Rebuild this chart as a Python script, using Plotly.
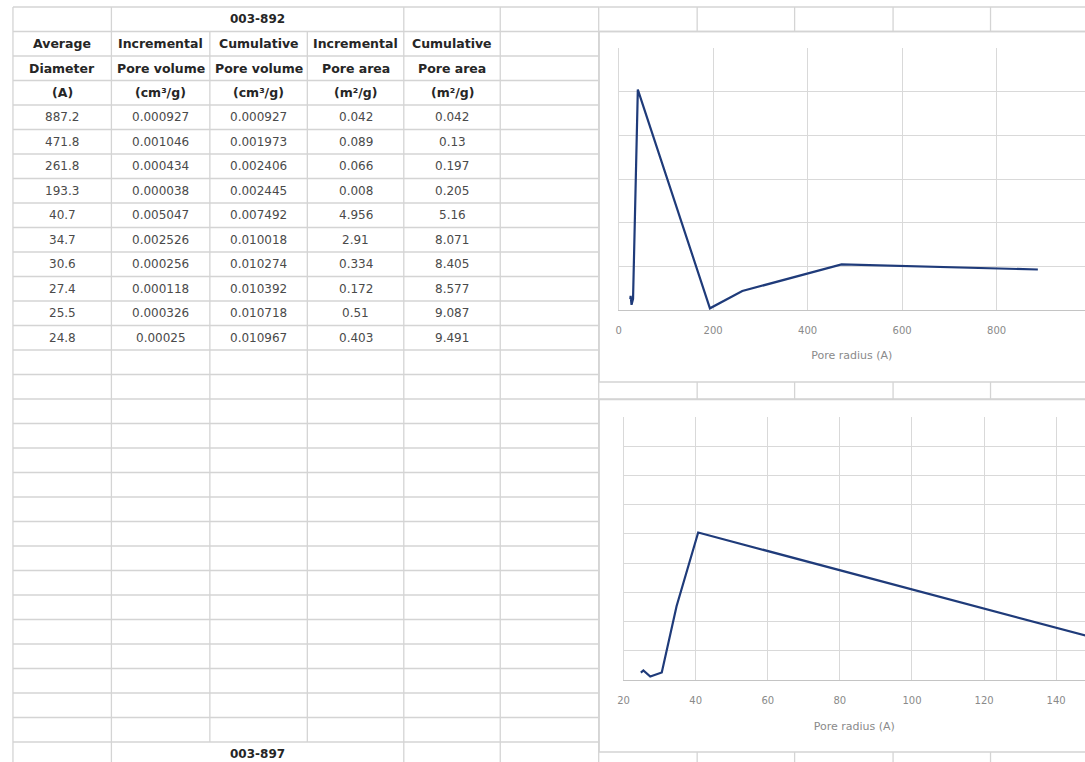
import plotly.graph_objects as go

# ---------------- data ----------------
sample_top = "003-892"
sample_bottom = "003-897"
header_line1 = ["Average", "Incremental", "Cumulative", "Incremental", "Cumulative"]
header_line2 = ["Diameter", "Pore volume", "Pore volume", "Pore area", "Pore area"]
header_line3 = ["(A)", "(cm³/g)", "(cm³/g)", "(m²/g)", "(m²/g)"]

avg_diameter = [887.2, 471.8, 261.8, 193.3, 40.7, 34.7, 30.6, 27.4, 25.5, 24.8]
inc_pore_volume = [0.000927, 0.001046, 0.000434, 0.000038, 0.005047,
                   0.002526, 0.000256, 0.000118, 0.000326, 0.00025]
cum_pore_volume = [0.000927, 0.001973, 0.002406, 0.002445, 0.007492,
                   0.010018, 0.010274, 0.010392, 0.010718, 0.010967]
inc_pore_area = [0.042, 0.089, 0.066, 0.008, 4.956, 2.91, 0.334, 0.172, 0.51, 0.403]
cum_pore_area = [0.042, 0.13, 0.197, 0.205, 5.16, 8.071, 8.405, 8.577, 9.087, 9.491]

x_title = "Pore radius (A)"

# ---------------- geometry (pixels) ----------------
W, H = 1085, 762
COLS = [7, 106, 205, 303, 400, 497, 596, 695, 793, 892, 990]
ROW0, ROWH, NROWS = 7, 24.5, 32
GRID = "#d4d4d4"
LINE = "#1f3b7a"
TICK = "#8a8a8a"
FONT = "DejaVu Sans"

CH1 = dict(x0=596.5, y0=31.5, y1=382)     # chart objects
CH2 = dict(x0=596.5, y0=399.5, y1=752)


def px(x):
    return x / W


def py(y):
    return 1 - y / H


def fmt(v):
    return f"{v:.6f}".rstrip("0").rstrip(".")


shapes = []


def hline(y, x0, x1, color=GRID):
    shapes.append(dict(type="line", xref="paper", yref="paper", x0=px(x0), x1=px(x1),
                       y0=py(y), y1=py(y), line=dict(color=color, width=1.3)))


def vline(x, y0, y1, color=GRID):
    shapes.append(dict(type="line", xref="paper", yref="paper", x0=px(x), x1=px(x),
                       y0=py(y0), y1=py(y1), line=dict(color=color, width=1.3)))


rows_y = [ROW0 + ROWH * k for k in range(NROWS)]
for k, y in enumerate(rows_y):
    hline(y, COLS[0], 596.5)
    inside = (CH1["y0"] < y < CH1["y1"]) or (CH2["y0"] < y < CH2["y1"])
    if not inside:
        hline(y, 596.5, W + 5)

merged_rows = [0, 30]
for x in COLS[:7]:
    if x in (205, 303):
        segs = []
        start = ROW0
        for r in merged_rows:
            segs.append((start, ROW0 + ROWH * r))
            start = ROW0 + ROWH * (r + 1)
        segs.append((start, H + 5))
        for a, b in segs:
            if b > a:
                vline(x, a, b)
    else:
        vline(x, ROW0, H + 5)
for x in COLS[7:]:
    for a, b in [(ROW0, CH1["y0"]), (CH1["y1"], CH2["y0"]), (CH2["y1"], H + 5)]:
        vline(x, a, b)

for ch in (CH1, CH2):
    shapes.append(dict(type="rect", xref="paper", yref="paper", x0=px(ch["x0"]), x1=px(W + 20),
                       y0=py(ch["y1"]), y1=py(ch["y0"]), fillcolor="white",
                       line=dict(color=GRID, width=1.3), layer="below"))

# ---------------- table text ----------------
annotations = []
col_centers = [(COLS[i] + COLS[i + 1]) / 2 for i in range(5)]
merged_center = (COLS[1] + COLS[4]) / 2


def row_center(k):
    return ROW0 + ROWH * (k + 0.5)


def cell(text, xc, k, bold=False, color="#4a4a4a", size=12):
    annotations.append(dict(text=f"<b>{text}</b>" if bold else text, x=px(xc), y=py(row_center(k)),
                            xref="paper", yref="paper", showarrow=False,
                            xanchor="center", yanchor="middle",
                            font=dict(family=FONT, size=size, color=color)))


HDR = "#262626"
cell(sample_top, merged_center, 0, bold=True, color=HDR, size=12)
for k, hdr in enumerate([header_line1, header_line2, header_line3], start=1):
    for i, t in enumerate(hdr):
        cell(t, col_centers[i], k, bold=True, color=HDR, size=12.5)
columns = [avg_diameter, inc_pore_volume, cum_pore_volume, inc_pore_area, cum_pore_area]
for r in range(len(avg_diameter)):
    for i, col in enumerate(columns):
        cell(fmt(col[r]), col_centers[i], 4 + r)
cell(sample_bottom, merged_center, 30, bold=True, color=HDR, size=12)

# ---------------- charts ----------------
fig = go.Figure()
fig.add_trace(go.Scatter(x=avg_diameter, y=inc_pore_volume, mode="lines",
                         line=dict(color=LINE, width=2.2), xaxis="x", yaxis="y",
                         showlegend=False, hoverinfo="skip"))
fig.add_trace(go.Scatter(x=avg_diameter, y=inc_pore_volume, mode="lines",
                         line=dict(color=LINE, width=2.2), xaxis="x2", yaxis="y2",
                         showlegend=False, hoverinfo="skip"))

axis_common = dict(showgrid=True, gridcolor="#d9d9d9", gridwidth=1.3, zeroline=False,
                   ticks="", fixedrange=True)
xfont = dict(family=FONT, size=10, color=TICK)
tfont = dict(family=FONT, size=11, color=TICK)

fig.update_layout(
    width=W, height=H, margin=dict(l=0, r=0, t=0, b=0),
    paper_bgcolor="white", plot_bgcolor="white",
    shapes=shapes, annotations=annotations,
    xaxis=dict(domain=[px(616), 1], range=[0, 987], dtick=200, anchor="y",
               showline=True, linecolor="#c4c4c4", linewidth=1.3,
               tickfont=xfont, ticklabelstandoff=11,
               title=dict(text=x_title, font=tfont, standoff=16),
               **axis_common),
    yaxis=dict(domain=[py(310), py(48)], range=[0, 0.006], dtick=0.001, anchor="x",
               showticklabels=False, showline=True, linecolor="#d9d9d9", linewidth=1.3,
               **axis_common),
    xaxis2=dict(domain=[px(621), 1], range=[20, 148], dtick=20, anchor="y2",
                showline=True, linecolor="#c4c4c4", linewidth=1.3,
                tickfont=xfont, ticklabelstandoff=11,
                title=dict(text=x_title, font=tfont, standoff=17),
                **axis_common),
    yaxis2=dict(domain=[py(680), py(417)], range=[0, 0.009], dtick=0.001, anchor="x2",
                showticklabels=False, showline=True, linecolor="#d9d9d9", linewidth=1.3,
                **axis_common),
)

fig.write_html("out.html", config={"displayModeBar": False},
               post_script="document.body.style.margin='0';document.body.style.overflow='hidden';")
